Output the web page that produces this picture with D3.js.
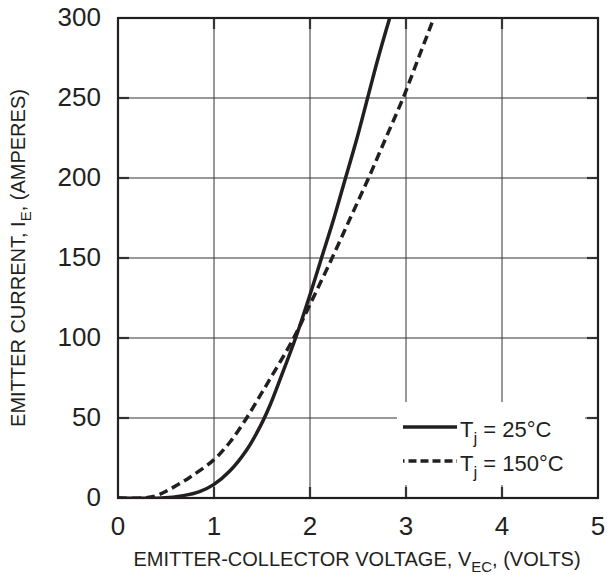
<!DOCTYPE html>
<html lang="en">
<head>
  <meta charset="UTF-8">
  <title>Emitter current vs emitter-collector voltage</title>
  <style>
    body { margin: 0; background: #fff; }
    text { font-family: "Liberation Sans", Arial, sans-serif; fill: #231f20; }
  </style>
</head>
<body>
  <svg id="svg" width="610" height="575"></svg>

  <script src="https://d3js.org/d3.v7.min.js"></script>
  <script>
    // curve readings (volts, amperes)
    const v25 = [0, 0.45, 0.68, 0.85, 1.0, 1.167, 1.34, 1.48, 1.58, 1.7, 1.85, 2.0, 2.12, 2.25, 2.37, 2.49, 2.6, 2.71, 2.83]
    const i25 = [0, 0, 1.5, 4, 8.5, 17, 30, 44.6, 57.5, 76, 100, 127, 150, 175, 200, 225, 250, 275, 300]
    const v150 = [0, 0.25, 0.4, 0.54, 0.75, 1.0, 1.167, 1.34, 1.48, 1.57, 1.83, 2.0, 2.23, 2.42, 2.61, 2.79, 2.97, 3.13, 3.29]
    const i150 = [0, 0, 1.5, 5.5, 13, 24, 35, 50, 64, 73, 100, 121, 150, 175, 200, 225, 250, 275, 300]
    const xTicks = [0, 1, 2, 3, 4, 5]
    const yTicks = [0, 50, 100, 150, 200, 250, 300]

    const svg = d3.select('#svg')
    const pL = 118, pR = 598, pT = 18, pB = 498
    const ink = '#231f20'

    const x = d3.scaleLinear().domain([0, 5]).range([pL, pR])
    const y = d3.scaleLinear().domain([0, 300]).range([pB, pT])

    // grid
    svg.selectAll('.vg').data(xTicks.slice(1, -1)).enter().append('line')
      .attr('x1', d => x(d)).attr('x2', d => x(d))
      .attr('y1', pT).attr('y2', pB)
      .attr('stroke', '#333').attr('stroke-width', 1)
    svg.selectAll('.hg').data(yTicks.slice(1, -1)).enter().append('line')
      .attr('x1', pL).attr('x2', pR)
      .attr('y1', d => y(d)).attr('y2', d => y(d))
      .attr('stroke', '#333').attr('stroke-width', 1)

    // inward ticks on all sides
    xTicks.slice(1, -1).forEach(d => {
      svg.append('line').attr('x1', x(d)).attr('x2', x(d)).attr('y1', pT).attr('y2', pT + 11)
        .attr('stroke', '#333').attr('stroke-width', 2.2)
      svg.append('line').attr('x1', x(d)).attr('x2', x(d)).attr('y1', pB).attr('y2', pB - 11)
        .attr('stroke', '#333').attr('stroke-width', 2.2)
    })
    yTicks.slice(1, -1).forEach(d => {
      svg.append('line').attr('x1', pL).attr('x2', pL + 11).attr('y1', y(d)).attr('y2', y(d))
        .attr('stroke', '#333').attr('stroke-width', 2.2)
      svg.append('line').attr('x1', pR).attr('x2', pR - 11).attr('y1', y(d)).attr('y2', y(d))
        .attr('stroke', '#333').attr('stroke-width', 2.2)
    })

    // legend background
    svg.append('rect').attr('x', 397).attr('y', 402).attr('width', 188).attr('height', 83).attr('fill', '#fff')

    // curves
    const line = d3.line().x(d => x(d[0])).y(d => y(d[1])).curve(d3.curveCatmullRom.alpha(0.5))
    svg.append('clipPath').attr('id', 'clip')
      .append('rect').attr('x', pL).attr('y', pT).attr('width', pR - pL).attr('height', pB - pT)

    svg.append('path')
      .attr('d', line(v150.map((v, i) => [v, i150[i]])))
      .attr('fill', 'none').attr('stroke', ink).attr('stroke-width', 3.5)
      .attr('stroke-dasharray', '9,5').attr('clip-path', 'url(#clip)')
    svg.append('path')
      .attr('d', line(v25.map((v, i) => [v, i25[i]])))
      .attr('fill', 'none').attr('stroke', ink).attr('stroke-width', 3.5)
      .attr('clip-path', 'url(#clip)')

    // frame
    svg.append('rect').attr('x', pL).attr('y', pT).attr('width', pR - pL).attr('height', pB - pT)
      .attr('fill', 'none').attr('stroke', ink).attr('stroke-width', 2.2)

    // legend
    svg.append('line').attr('x1', 403).attr('x2', 457).attr('y1', 427).attr('y2', 427)
      .attr('stroke', ink).attr('stroke-width', 3.5)
    svg.append('line').attr('x1', 403).attr('x2', 457).attr('y1', 461).attr('y2', 461)
      .attr('stroke', ink).attr('stroke-width', 3.5).attr('stroke-dasharray', '1.5,4,8,4,8,4,8,4,8,4')
    const legend = [['25°C', 437], ['150°C', 471]]
    legend.forEach(([t, yy]) => {
      const tx = svg.append('text').attr('x', 460).attr('y', yy).attr('font-size', 22)
      tx.append('tspan').text('T')
      tx.append('tspan').attr('dy', 7).attr('font-size', 17).text('j')
      tx.append('tspan').attr('dy', -7).text(' = ' + t)
    })

    // tick labels
    svg.selectAll('.xl').data(xTicks).enter().append('text')
      .attr('x', d => x(d)).attr('y', 535).attr('text-anchor', 'middle').attr('font-size', 26)
      .text(d => d)
    svg.selectAll('.yl').data(yTicks).enter().append('text')
      .attr('x', 101).attr('y', d => y(d) + 7.5).attr('text-anchor', 'end').attr('font-size', 26)
      .text(d => d)

    // axis titles
    const xt = svg.append('text').attr('x', 357).attr('y', 566).attr('text-anchor', 'middle').attr('font-size', 20)
    xt.append('tspan').text('EMITTER-COLLECTOR VOLTAGE, V')
    xt.append('tspan').attr('dy', 6).attr('font-size', 15).text('EC')
    xt.append('tspan').attr('dy', -6).text(', (VOLTS)')

    const yt = svg.append('text').attr('transform', 'translate(25,258) rotate(-90)')
      .attr('text-anchor', 'middle').attr('font-size', 20)
    yt.append('tspan').text('EMITTER CURRENT, I')
    yt.append('tspan').attr('dy', 6).attr('font-size', 15).text('E')
    yt.append('tspan').attr('dy', -6).text(', (AMPERES)')
  </script>
</body>
</html>
